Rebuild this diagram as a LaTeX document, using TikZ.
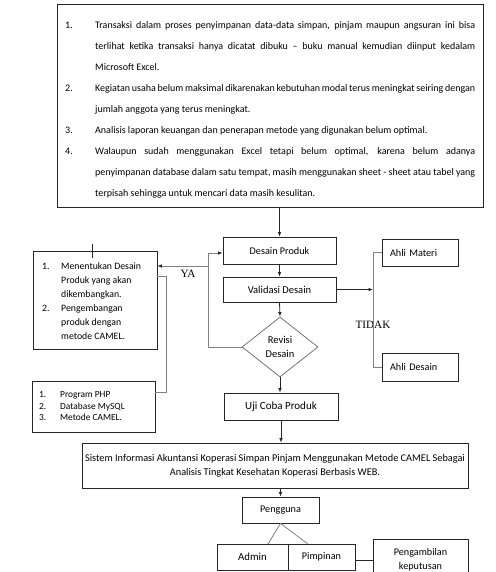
\documentclass[tikz,border=0pt]{standalone}
\usepackage{fontspec}
\setmainfont{Carlito}
\newfontfamily\serifT{Liberation Serif}
\usetikzlibrary{shapes.geometric,arrows.meta}
\newcommand\jl[1]{\makebox[380pt][s]{#1}}
\newcommand\itm[2]{\hbox{\hbox to 30pt{#1\hss}#2}}
\newcommand\cnt[1]{\hbox{\hbox to 30pt{\hss}#1}}
\newcommand\bitm[3]{\hbox{\hbox to #1{#2\hss}#3}}
\begin{document}
\begin{tikzpicture}[x=1pt,y=-1pt,
  box/.style={draw=black!85, line width=0.8pt, rectangle, inner sep=0pt,
    font=\fontsize{10.2}{14}\selectfont, align=center},
  conn/.style={draw=black!50, line width=0.8pt},
  arr/.style={draw=black!85, line width=0.8pt, -{Latex[length=4.5pt,width=3.6pt]}},
  garr/.style={draw=black!50, line width=0.8pt, -{Latex[length=4.5pt,width=3.6pt,color=black!85]}},
  txt/.style={inner sep=0pt, font=\fontsize{9.8}{14}\selectfont},
  lbl/.style={inner sep=0pt, font=\serifT\fontsize{11.2}{13}\selectfont}]
\useasboundingbox (0,0) rectangle (495,572);
\clip (0,0) rectangle (495,572);

% top box
\node[box, minimum width=426pt, minimum height=203pt] (top) at (270,105.5) {};
\node[txt, font=\fontsize{10}{14}\selectfont, anchor=base west] (toptext) at (65,28.5) {\vtop{\baselineskip=21pt\lineskiplimit=0pt
 \itm{1.}{\jl{Transaksi dalam proses penyimpanan data-data simpan, pinjam maupun angsuran ini bisa}}
 \cnt{\jl{terlihat ketika transaksi hanya dicatat dibuku – buku manual kemudian diinput kedalam}}
 \cnt{Microsoft Excel.}
 \itm{2.}{\jl{Kegiatan usaha belum maksimal dikarenakan kebutuhan modal terus meningkat seiring dengan}}
 \cnt{jumlah anggota yang terus meningkat.}
 \itm{3.}{Analisis laporan keuangan dan penerapan metode yang digunakan belum optimal.}
 \itm{4.}{\jl{Walaupun sudah menggunakan Excel tetapi belum optimal, karena belum adanya}}
 \cnt{\jl{penyimpanan database dalam satu tempat, masih menggunakan sheet - sheet atau tabel yang}}
 \cnt{terpisah sehingga untuk mencari data masih kesulitan.}}};

% central column
\node[box, minimum width=113pt, minimum height=27pt] (dp) at (279.5,250.5) {Desain Produk};
\node[box, font=\fontsize{10.5}{14}\selectfont, minimum width=113pt, minimum height=25pt] (val) at (279.5,289.5) {Validasi Desain};
\node[box, font=\fontsize{10.5}{14}\selectfont, draw=black!55, shape=diamond, minimum width=76pt, minimum height=60pt] (rev) at (280,347) {Revisi\\Desain};
\node[box, font=\fontsize{11}{14}\selectfont, minimum width=114pt, minimum height=27pt] (uji) at (281,406.5) {Uji Coba Produk};

% experts
\node[box, text width=60pt, align=left, inner xsep=8pt, minimum height=27pt] (am) at (420,252.5) {Ahli Materi};
\node[box, text width=60pt, align=left, inner xsep=8pt, minimum height=28pt] (ad) at (420,367) {Ahli Desain};

% left boxes
\node[box, minimum width=124pt, minimum height=98pt] (b1) at (95,300) {};
\node[txt, anchor=base west] (b1text) at (42,269.5) {\vtop{\baselineskip=14pt\lineskiplimit=0pt
 \bitm{19pt}{1.}{Menentukan Desain}
 \bitm{19pt}{}{Produk yang akan}
 \bitm{19pt}{}{dikembangkan.}
 \bitm{19pt}{2.}{Pengembangan}
 \bitm{19pt}{}{produk dengan}
 \bitm{19pt}{}{metode CAMEL.}}};
\node[box, minimum width=123pt, minimum height=51pt] (b2) at (93.5,406.5) {};
\node[txt, font=\fontsize{9.4}{11.5}\selectfont, anchor=base west] (b2text) at (39,397.5) {\vtop{\baselineskip=11.5pt\lineskiplimit=-2pt
 \bitm{21pt}{1.}{Program PHP}
 \bitm{21pt}{2.}{Database MySQL}
 \bitm{21pt}{3.}{Metode CAMEL.}}};

% bottom part
\node[box, font=\fontsize{10.3}{14}\selectfont, minimum width=386pt, minimum height=45pt] (sis) at (275,465.5) {Sistem Informasi Akuntansi Koperasi Simpan Pinjam Menggunakan Metode CAMEL Sebagai\\Analisis Tingkat Kesehatan Koperasi Berbasis WEB.};
\node[box, minimum width=77pt, minimum height=26pt] (peng) at (280.5,510) {Pengguna};
\node[box, font=\fontsize{10.8}{14}\selectfont, minimum width=71pt, minimum height=26pt] (adm) at (252.5,557) {Admin};
\node[box, minimum width=67pt, minimum height=26pt] (pim) at (321.5,557) {Pimpinan};
\node[box, minimum width=95pt, minimum height=41pt] (pk) at (420.5,559.5) {Pengambilan\\keputusan};

% labels
\node[lbl] (ya) at (188,274) {YA};
\node[lbl] (tidak) at (373,325) {TIDAK};

% coordinates
\coordinate (loopT) at (208,253);
\coordinate (yaP) at (208,266);
\coordinate (brT) at (373,253);
\coordinate (vL) at (268,544);
\coordinate (vR) at (308,544);
\coordinate (tick) at (92,251);

% connectors
\draw[arr] (dp.north |- top.south) -- (dp.north);
\draw[arr] (dp.south) -- (val.north);
\draw[arr] (val.south) -- (rev.north);
\draw[arr] (rev.south) -- (rev.south |- uji.north);
\draw[arr] (uji.south) -- (uji.south |- sis.north);
\draw[arr] (peng.north |- sis.south) -- (peng.north);
\draw[garr] (rev.west) -- (rev.west -| loopT) -- (loopT) -- (loopT -| dp.west);
\draw[garr] (yaP) -- (yaP -| b1.east);
\draw[conn] (b1.east |- 0,276) -- (166,276) -- (166,392) -- (b2.east |- 0,392);
\draw[arr] (val.east) -- (val.east -| brT);
\draw[conn] (am.west) -- (am.west -| brT) -- (ad.west -| brT) -- (ad.west);
\draw[conn] (vL) -- (peng.south) -- (vR);
\draw[conn, draw=black!85] ([yshift=-3pt]pim.east) -- ([yshift=-3pt]pim.east -| pk.west);
\draw[draw=black!85, line width=0.8pt] (tick) ++(0,-7) -- ++(0,14);
\end{tikzpicture}
\end{document}
